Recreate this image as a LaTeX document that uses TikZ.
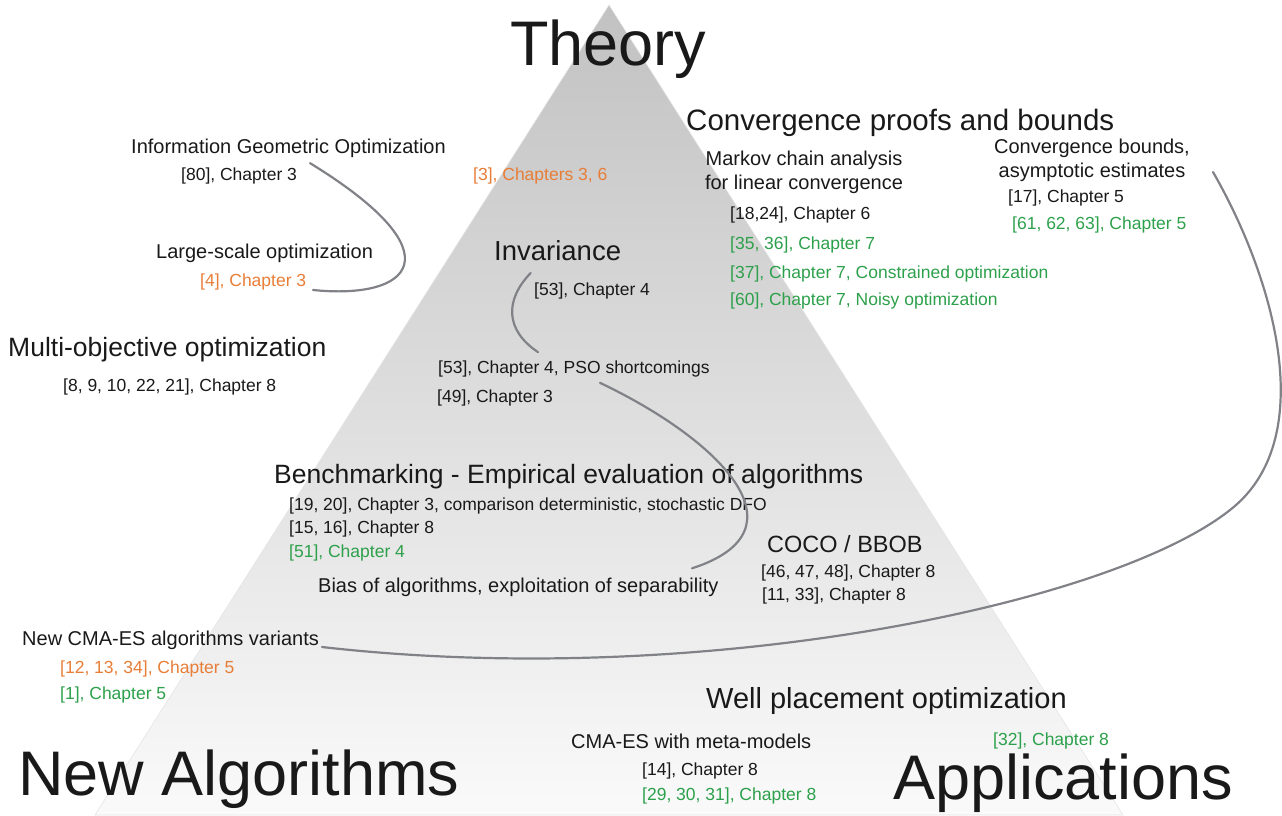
\documentclass[tikz,border=0pt]{standalone}
\usepackage{fontspec}
\setmainfont{Liberation Sans}
\definecolor{reforange}{RGB}{232,125,55}
\definecolor{refgreen}{RGB}{45,160,75}
\definecolor{linkgray}{RGB}{128,130,135}

\begin{document}
\begin{tikzpicture}[x=1pt,y=-1pt,
  every node/.style={inner sep=0pt,anchor=base west,text=black!90},
  title/.style={font=\fontsize{63}{70}\selectfont},
  head/.style={font=\fontsize{27.5}{33}\selectfont},
  sub/.style={font=\fontsize{20}{24}\selectfont},
  ref/.style={font=\fontsize{17.5}{21}\selectfont},
  oref/.style={ref,text=reforange},
  gref/.style={ref,text=refgreen},
  link/.style={draw=linkgray,line width=2.2pt,line cap=round}]

  \useasboundingbox (0,0) rectangle (1282,815);

  % The pyramid
  \shadedraw[top color=black!24,bottom color=black!2,draw=black!10,line width=0.6pt]
    (609,5) -- (1123,815) -- (95,815) -- cycle;

  % Corners
  \node[title] (theory) at (510,65) {Theory};
  \node[title] (newalg) at (18,795) {New Algorithms};
  \node[title,font=\fontsize{63}{70}\selectfont] (applic) at (893,799) {Applications};

  % Theory side
  \node[sub] (igo) at (131,153) {Information Geometric Optimization};
  \node[ref] (igoref) at (181,180) {[80], Chapter 3};
  \node[oref] (invorange) at (473,180) {[3], Chapters 3, 6};
  \node[sub] (lso) at (156,258) {Large-scale optimization};
  \node[oref] (lsoref) at (200,286) {[4], Chapter 3};
  \node[head,font=\fontsize{29.5}{35}\selectfont] (conv) at (686,130) {Convergence proofs and bounds};
  \node[sub,anchor=north,align=center] (markov) at (804,151) {Markov chain analysis\\for linear convergence};
  \node[ref] (markova) at (730,219) {[18,24], Chapter 6};
  \node[gref] (markovb) at (730,249) {[35, 36], Chapter 7};
  \node[gref] (markovc) at (730,278) {[37], Chapter 7, Constrained optimization};
  \node[gref] (markovd) at (730,305) {[60], Chapter 7, Noisy optimization};
  \node[sub,anchor=north,align=center] (convbnd) at (1092,139) {Convergence bounds,\\asymptotic estimates};
  \node[ref] (convbnda) at (1008,202) {[17], Chapter 5};
  \node[gref] (convbndb) at (1012,229) {[61, 62, 63], Chapter 5};

  % Middle
  \node[head] (inv) at (494,260) {Invariance};
  \node[ref] (invref) at (534,295) {[53], Chapter 4};
  \node[head,font=\fontsize{26.5}{32}\selectfont] (multi) at (8,356) {Multi-objective optimization};
  \node[ref] (multiref) at (63,391) {[8, 9, 10, 22, 21], Chapter 8};
  \node[ref] (pso) at (438,373) {[53], Chapter 4, PSO shortcomings};
  \node[ref] (psob) at (437,402) {[49], Chapter 3};
  \node[head,font=\fontsize{26.5}{32}\selectfont] (bench) at (274,483) {Benchmarking - Empirical evaluation of algorithms};
  \node[ref] (bencha) at (289,510) {[19, 20], Chapter 3, comparison deterministic, stochastic DFO};
  \node[ref] (benchb) at (289,533) {[15, 16], Chapter 8};
  \node[gref] (benchc) at (289,557) {[51], Chapter 4};
  \node[sub] (bias) at (318,592) {Bias of algorithms, exploitation of separability};
  \node[head,font=\fontsize{23.5}{28}\selectfont] (coco) at (767,552) {COCO / BBOB};
  \node[ref] (cocoa) at (761,577) {[46, 47, 48], Chapter 8};
  \node[ref] (cocob) at (762,600) {[11, 33], Chapter 8};

  % Algorithms and applications
  \node[sub] (newcma) at (22,645) {New CMA-ES algorithms variants};
  \node[oref] (newcmaa) at (60,673) {[12, 13, 34], Chapter 5};
  \node[gref] (newcmab) at (60,699) {[1], Chapter 5};
  \node[head,font=\fontsize{29}{35}\selectfont] (well) at (706,708) {Well placement optimization};
  \node[sub] (meta) at (571,748) {CMA-ES with meta-models};
  \node[ref] (metaa) at (642,775) {[14], Chapter 8};
  \node[gref] (metab) at (642,800) {[29, 30, 31], Chapter 8};
  \node[gref] (wellref) at (993,745) {[32], Chapter 8};

  % Links
  \coordinate (bend) at (1230,510);
  \draw[link] ([xshift=129pt,yshift=4pt]igoref.north west) .. controls +(150,92) and +(97,10) .. ([xshift=113pt,yshift=-8.5pt]lsoref.west);
  \draw[link] ([xshift=-27pt,yshift=-13pt]inv.base) .. controls +(-26,27) and +(-33,-22) .. ([xshift=100pt,yshift=8pt]pso.north west);
  \draw[link] ([xshift=162pt,yshift=-6pt]pso.south west) .. controls +(120,57) and +(118,-38) .. ([xshift=374pt,yshift=9pt]bias.north west);
  \draw[link] ([xshift=121pt,yshift=-33pt]convbnd.north) .. controls +(62,108) and +(90,-70) .. (bend)
    .. controls +(-120,95) and +(378,43) .. ([xshift=300pt,yshift=-2pt]newcma.base west);
\end{tikzpicture}
\end{document}
